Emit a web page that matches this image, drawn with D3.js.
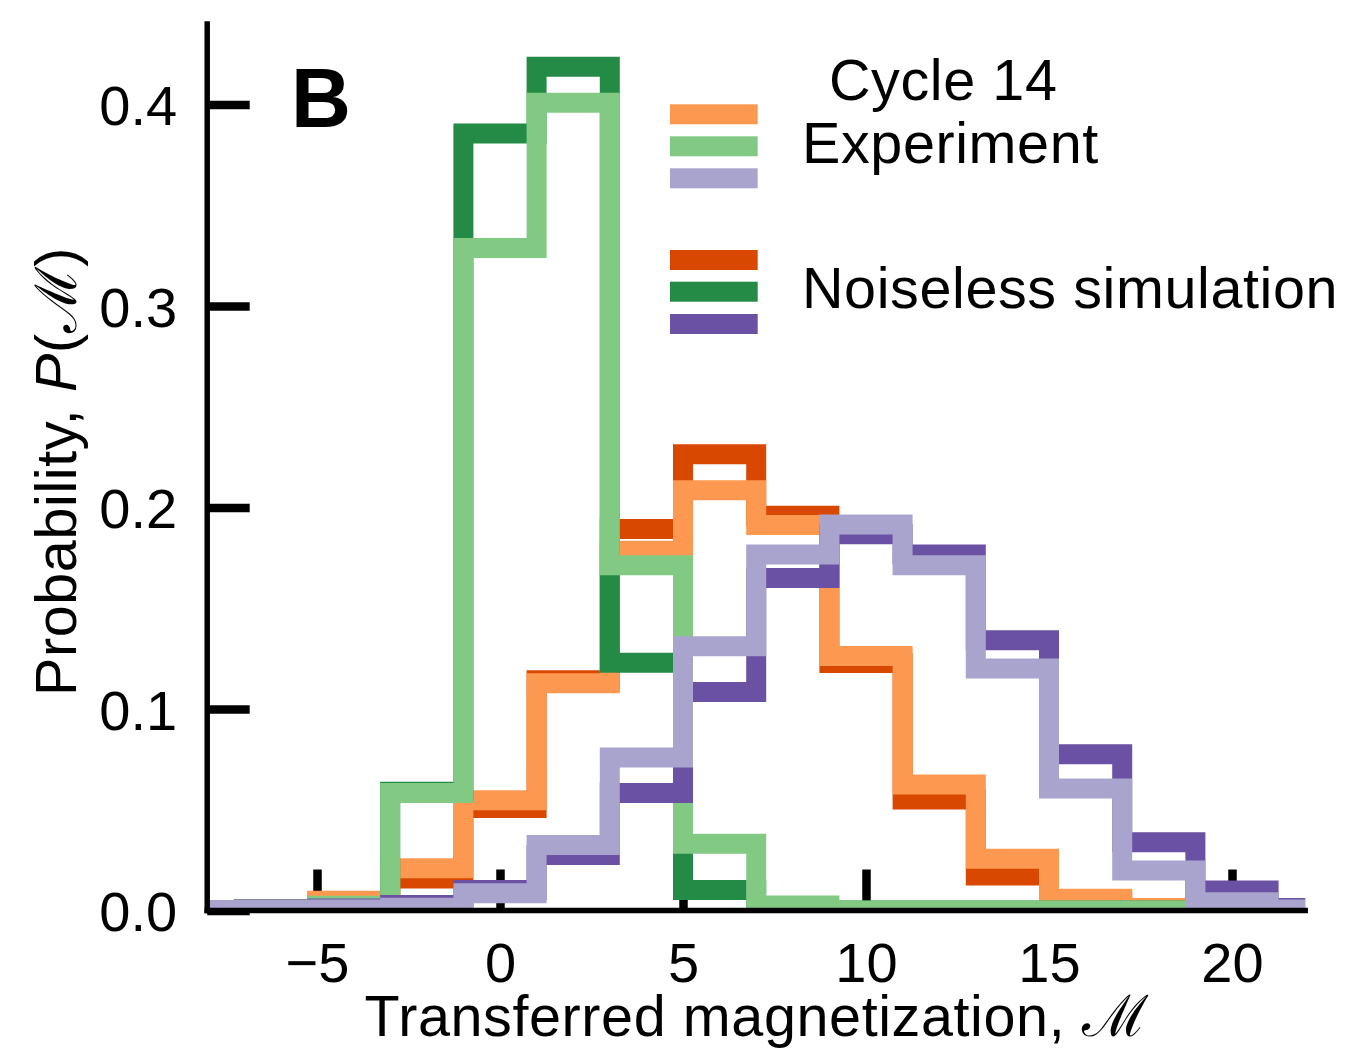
<!DOCTYPE html>
<html>
<head>
<meta charset="utf-8">
<script src="https://cdn.jsdelivr.net/npm/d3@7/dist/d3.min.js"></script>
<style>
  html, body { margin: 0; padding: 0; background: #ffffff; }
  svg { display: block; }
  text { font-family: "Liberation Sans", Arial, Helvetica, sans-serif; fill: #000; }
</style>
</head>
<body>
<svg id="chart" width="1347" height="1052"></svg>
<script>
// Histogram bins (centre of each bin, bins are 2 wide)
const binCenters = [-8, -6, -4, -2, 0, 2, 4, 6, 8, 10, 12, 14, 16, 18, 20, 22];
const binWidth = 2;

// Probabilities per bin, cycle 14 (null = bin not in the histogram)
const simOrange = [null, 0.0003, 0.004, 0.0159, 0.0509, 0.1143, 0.1893, 0.2264, 0.1959, 0.1229, 0.0551, 0.0174, 0.004, 0.0005, 0, null];
const expOrange = [null, 0.0005, 0.0049, 0.021, 0.0547, 0.1128, 0.1785, 0.2086, 0.1913, 0.1263, 0.0626, 0.0257, 0.0058, 0.0013, 0, null];
const simGreen  = [null, 0.0004, 0.002, 0.059, 0.3857, 0.4188, 0.123, 0.0102, 0, 0, 0, 0, 0, 0, 0, null];
const expGreen  = [null, 0.0005, 0.0024, 0.0583, 0.3288, 0.4009, 0.1714, 0.0331, 0.0025, 0, 0, 0, 0, 0, 0, null];
const simPurple = [0.0003, 0.0005, 0.001, 0.0027, 0.0102, 0.0275, 0.0583, 0.1085, 0.165, 0.1868, 0.1767, 0.1341, 0.0775, 0.0339, 0.0099, 0.0013];
const expPurple = [0.0003, 0.0003, 0.0005, 0.0014, 0.0085, 0.0325, 0.076, 0.1311, 0.1767, 0.1916, 0.1714, 0.1201, 0.0605, 0.0199, 0.0041, 0.0005];

// Axis ticks
const xTicks = [-5, 0, 5, 10, 15, 20];
const yTicks = [0.0, 0.1, 0.2, 0.3, 0.4];

// Drawing order: lower entries end up on top
const series = [
  { name: "simOrange", values: simOrange, color: "#d94801" },
  { name: "expOrange", values: expOrange, color: "#fd9850" },
  { name: "simGreen",  values: simGreen,  color: "#238b45" },
  { name: "expGreen",  values: expGreen,  color: "#82ca84" },
  { name: "simPurple", values: simPurple, color: "#6a51a3" },
  { name: "expPurple", values: expPurple, color: "#a8a4ce" }
];

// Legend entries
const legendExperiment = ["#fd9850", "#82ca84", "#a8a4ce"];
const legendSimulation = ["#d94801", "#238b45", "#6a51a3"];

const svg = d3.select("#chart");

const x = d3.scaleLinear().domain([-8, 22]).range([207.2, 1305.2]);
const y = d3.scaleLinear().domain([0, 0.44]).range([910.5, 24]);

// clip region = axes box
svg.append("defs").append("clipPath").attr("id", "plotArea")
  .append("rect")
  .attr("x", x(-8)).attr("y", 0)
  .attr("width", x(22) - x(-8)).attr("height", y(0));

// ticks (drawn underneath the histograms)
const xAxis = d3.axisBottom(x).tickValues(xTicks).tickSize(-41).tickPadding(31.4);
const yAxis = d3.axisLeft(y).tickValues(yTicks).tickSize(-42.5).tickPadding(30)
  .tickFormat(d3.format(".1f"));

const gx = svg.append("g").attr("transform", `translate(0,${y(0)})`).call(xAxis);
const gy = svg.append("g").attr("transform", `translate(${x(-8)},0)`).call(yAxis);

[gx, gy].forEach(g => {
  g.select(".domain").remove();
  g.selectAll(".tick line").attr("stroke", "#000").attr("stroke-width", 8.5);
  g.selectAll(".tick text")
    .style("font-family", '"Liberation Sans", Arial, sans-serif')
    .style("font-size", "56px")
    .attr("fill", "#000");
});
gy.selectAll(".tick text").attr("dy", "0.36em");
gx.selectAll(".tick text").attr("dy", "0.71em");

// step outline of a histogram
function stepPoints(values) {
  const pts = [];
  let started = false, lastEdge = null;
  values.forEach((v, i) => {
    if (v === null) return;
    const lo = binCenters[i] - binWidth / 2;
    const hi = binCenters[i] + binWidth / 2;
    if (!started) { pts.push([lo, 0]); started = true; }
    pts.push([lo, v]);
    pts.push([hi, v]);
    lastEdge = hi;
  });
  pts.push([lastEdge, 0]);
  return pts;
}

const line = d3.line().x(d => x(d[0])).y(d => y(d[1]));

const plot = svg.append("g").attr("clip-path", "url(#plotArea)");
series.forEach(s => {
  plot.append("path")
    .attr("d", line(stepPoints(s.values)))
    .attr("fill", "none")
    .attr("stroke", s.color)
    .attr("stroke-width", 20)
    .attr("stroke-linejoin", "miter")
    .attr("stroke-linecap", "square");
});

// spines (left and bottom)
svg.append("line")
  .attr("x1", x(-8)).attr("x2", x(-8))
  .attr("y1", y(0.44)).attr("y2", y(0))
  .attr("stroke", "#000").attr("stroke-width", 5.5).attr("stroke-linecap", "square");
svg.append("line")
  .attr("x1", x(-8)).attr("x2", x(22))
  .attr("y1", y(0)).attr("y2", y(0))
  .attr("stroke", "#000").attr("stroke-width", 5.5).attr("stroke-linecap", "square");

// axis titles
svg.append("text")
  .attr("x", 756.5).attr("y", 1036)
  .attr("text-anchor", "middle")
  .style("font-size", "57.5px")
  .style("letter-spacing", "0.6px")
  .text("Transferred magnetization, ℳ");

const yTitle = svg.append("text")
  .attr("transform", "translate(76,471.5) rotate(-90)")
  .attr("text-anchor", "middle")
  .style("font-size", "57.5px")
  .style("letter-spacing", "0.6px");
yTitle.append("tspan").text("Probability, ");
yTitle.append("tspan").style("font-style", "italic").text("P");
yTitle.append("tspan").text("(ℳ)");

// panel letter
svg.append("text")
  .attr("x", 291).attr("y", 126.7)
  .style("font-size", "83px").style("font-weight", "bold")
  .text("B");

// legend
const legendX = 670, legendW = 87.7, legendH = 20;
const expY = [114.3, 146.3, 178.3];
const simY = [260, 291.7, 324];
legendExperiment.forEach((c, i) => {
  svg.append("rect").attr("x", legendX).attr("y", expY[i] - legendH / 2)
    .attr("width", legendW).attr("height", legendH).attr("fill", c);
});
legendSimulation.forEach((c, i) => {
  svg.append("rect").attr("x", legendX).attr("y", simY[i] - legendH / 2)
    .attr("width", legendW).attr("height", legendH).attr("fill", c);
});
const legendText = [
  { label: "Cycle 14", x: 829, y: 100 },
  { label: "Experiment", x: 802, y: 163.3 },
  { label: "Noiseless simulation", x: 802, y: 308.3 }
];
legendText.forEach(t => {
  svg.append("text").attr("x", t.x).attr("y", t.y)
    .style("font-size", "57.5px").style("letter-spacing", "0.6px")
    .text(t.label);
});
</script>
</body>
</html>
